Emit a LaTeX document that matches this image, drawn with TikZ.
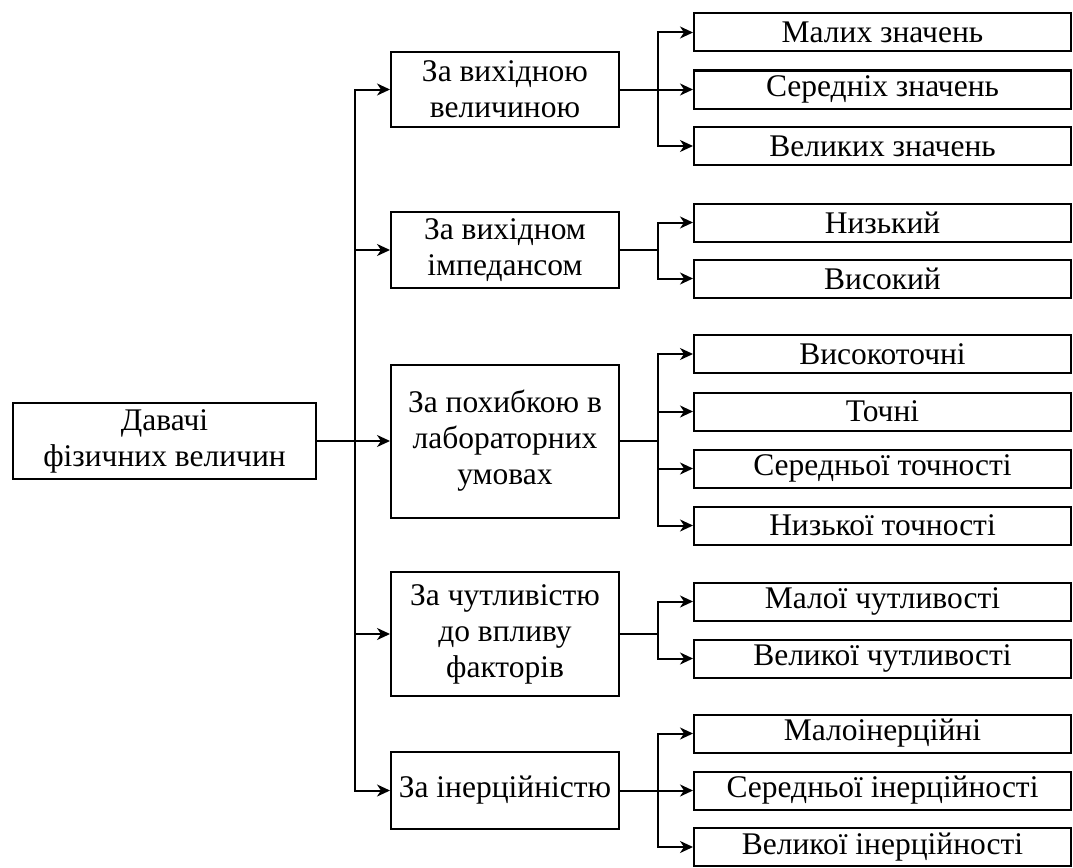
\documentclass[tikz,border=0pt]{standalone}
\usepackage{fontspec}
\setmainfont{Liberation Serif}
\usetikzlibrary{arrows.meta}
\begin{document}
\begin{tikzpicture}[x=1pt,y=-1pt,
  box/.style={draw,line width=2pt,inner sep=0pt,align=center,
              font=\fontsize{31.5}{36}\selectfont},
  rootbox/.style={box,minimum width=303pt,minimum height=76pt},
  midbox/.style={box,minimum width=228pt},
  leafbox/.style={box,minimum width=377pt,minimum height=38pt},
  wire/.style={line width=2pt},
  arr/.style={wire,-{Stealth[length=13pt,width=12pt,inset=4pt]}}]
\useasboundingbox (0,0) rectangle (1073,867);

% root
\node[rootbox] (root) at (164.5,441) {Давачі\\фізичних величин};

% classification criteria
\node[midbox,minimum height=75pt]  (m1) at (505,89.5) {За вихідною\\величиною};
\node[midbox,minimum height=76pt]  (m2) at (505,250)  {За вихідном\\імпедансом};
\node[midbox,minimum height=153pt] (m3) at (505,441)  {За похибкою в\\лабораторних\\умовах};
\node[midbox,minimum height=124pt] (m4) at (505,634)  {За чутливістю\\до впливу\\факторів};
\node[midbox,minimum height=77pt]  (m5) at (505,790.5) {За інерційністю};

% leaf categories
\node[leafbox] (c11) at (882.5,32.5)  {Малих значень};
\node[leafbox] (c12) at (882.5,89.5)  {Середніх значень};
\node[leafbox] (c13) at (882.5,146)   {Великих значень};

\node[leafbox] (c21) at (882.5,222.5) {Низький};
\node[leafbox] (c22) at (882.5,278.5) {Високий};

\node[leafbox] (c31) at (882.5,354)   {Високоточні};
\node[leafbox] (c32) at (882.5,411.5) {Точні};
\node[leafbox] (c33) at (882.5,468.5) {Середньої точності};
\node[leafbox] (c34) at (882.5,525.5) {Низької точності};

\node[leafbox] (c41) at (882.5,601.5) {Малої чутливості};
\node[leafbox] (c42) at (882.5,658.5) {Великої чутливості};

\node[leafbox] (c51) at (882.5,733.5) {Малоінерційні};
\node[leafbox] (c52) at (882.5,790.5) {Середньої інерційності};
\node[leafbox] (c53) at (882.5,847)   {Великої інерційності};

% trunk from the root
\coordinate (tr) at (355,441);
\draw[arr] (root) -- (m3);
\draw[arr] (tr) |- (m1);
\draw[arr] (tr) |- (m2);
\draw[arr] (tr) |- (m4);
\draw[arr] (tr) |- (m5);

% branches to the leaves
\foreach \m/\leaves in {m1/{c11,c12,c13},m2/{c21,c22},m3/{c31,c32,c33,c34},
                        m4/{c41,c42},m5/{c51,c52,c53}}{
  \foreach \c in \leaves {
    \draw[arr] (\m.east) -- ++(38,0) |- (\c);
  }
}
\end{tikzpicture}
\end{document}
